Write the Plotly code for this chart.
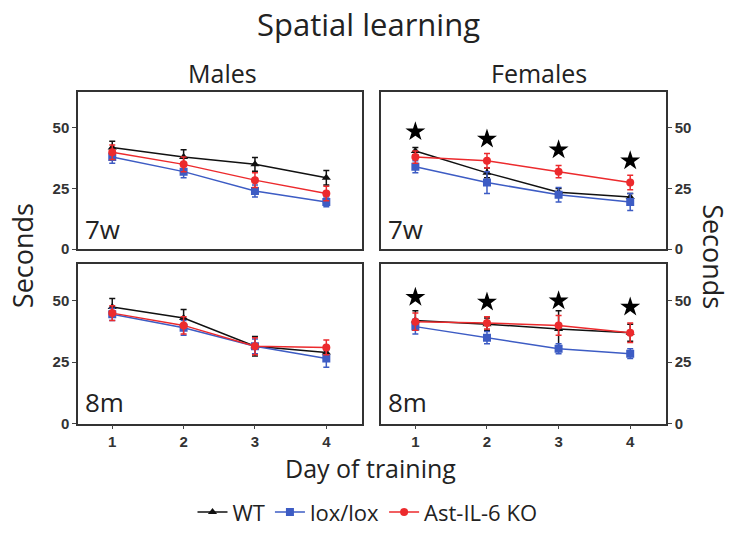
import plotly.graph_objects as go

days = [1, 2, 3, 4]

# Mean latency (s) and SEM per group, panel order: males 7w, females 7w, males 8m, females 8m
wt_mean = [[42, 38, 35, 29.5], [40.5, 31.5, 23.5, 21.5], [47.5, 43, 31.5, 29], [42, 40.5, 38.5, 37]]
wt_sem = [[2.5, 3, 2.8, 3], [1.5, 2, 1.5, 1.5], [3.5, 3.5, 4, 2.5], [4, 2.5, 7.5, 3.5]]
lox_mean = [[38, 32, 24, 19.5], [34, 27.5, 22.5, 19.5], [44.5, 39, 31.5, 26.5], [39.5, 35, 30.5, 28.5]]
lox_sem = [[2.5, 2.5, 2.5, 2], [2.5, 4.5, 3, 3.5], [2.5, 3, 3, 3.5], [3, 2.5, 2, 2]]
ko_mean = [[40, 35, 28.5, 23], [38, 36.5, 32, 27.5], [45, 40, 31.5, 31], [41.5, 41, 40, 37]]
ko_sem = [[3, 3, 3, 3], [2.5, 3, 2.5, 3], [3, 3.5, 3.5, 3], [3.5, 2.5, 4, 4]]

# Significance stars drawn over the female panels
star_7w = [48.5, 45.5, 41, 36.5]
star_8m = [51.5, 49.5, 50, 47.5]

series = [
    ("WT", wt_mean, wt_sem, "#111111", "triangle-up"),
    ("lox/lox", lox_mean, lox_sem, "#3d5cc4", "square"),
    ("Ast-IL-6 KO", ko_mean, ko_sem, "#ec2a2d", "circle"),
]

fig = go.Figure()
axis_ids = [("x", "y"), ("x2", "y2"), ("x3", "y3"), ("x4", "y4")]

for p, (xa, ya) in enumerate(axis_ids):
    for name, means, sems, color, symbol in series:
        fig.add_trace(go.Scatter(
            x=days, y=means[p], name=name, xaxis=xa, yaxis=ya,
            mode="lines+markers",
            line=dict(color=color, width=1.5),
            marker=dict(color=color, symbol=symbol, size=8),
            error_y=dict(type="data", array=sems[p], color=color, thickness=1.5, width=3),
            showlegend=(p == 0),
        ))

fig.add_trace(go.Scatter(x=days, y=star_7w, xaxis="x2", yaxis="y2", mode="markers",
                         marker=dict(symbol="star", size=15, color="black"), showlegend=False))
fig.add_trace(go.Scatter(x=days, y=star_8m, xaxis="x4", yaxis="y4", mode="markers",
                         marker=dict(symbol="star", size=15, color="black"), showlegend=False))

W, H = 735, 538
left_dom = [78 / W, 362 / W]
right_dom = [381 / W, 666 / W]
top_dom = [1 - 253 / H, 1 - 93 / H]
bot_dom = [1 - 430 / H, 1 - 268 / H]

tick_font = dict(family="Liberation Sans", size=15, color="#333333", weight="bold")

def xaxis(dom, anchor, labels):
    return dict(domain=dom, anchor=anchor, range=[0.52, 4.5], tickvals=days,
                showticklabels=labels, ticks="outside" if labels else "", ticklen=4,
                showline=True, mirror=True, linecolor="#333333", linewidth=1.5,
                showgrid=False, zeroline=False, tickfont=tick_font, fixedrange=True)

def yaxis(dom, anchor, side):
    return dict(domain=dom, anchor=anchor, range=[0, 65], tickvals=[0, 25, 50], side=side,
                ticks="outside", ticklen=4, showline=True, mirror=True,
                linecolor="#333333", linewidth=1.5, showgrid=False, zeroline=False,
                tickfont=tick_font, fixedrange=True)

fig.update_layout(
    width=W, height=H,
    margin=dict(l=0, r=0, t=0, b=0),
    paper_bgcolor="white", plot_bgcolor="white",
    font=dict(family="Open Sans", color="#222222"),
    xaxis=xaxis(left_dom, "y", False),
    yaxis=yaxis(top_dom, "x", "left"),
    xaxis2=xaxis(right_dom, "y2", False),
    yaxis2=yaxis(top_dom, "x2", "right"),
    xaxis3=xaxis(left_dom, "y3", True),
    yaxis3=yaxis(bot_dom, "x3", "left"),
    xaxis4=xaxis(right_dom, "y4", True),
    yaxis4=yaxis(bot_dom, "x4", "right"),
    legend=dict(orientation="h", x=0.5, xanchor="center", y=1 - 520 / H, yanchor="middle",
                font=dict(family="Open Sans", size=22, color="#222222"),
                itemwidth=30, tracegroupgap=0),
    showlegend=True,
)

def label(text, x, y, size, angle=0, xanchor="center", yanchor="middle"):
    fig.add_annotation(text=text, x=x / W, y=1 - y / H, xref="paper", yref="paper",
                       showarrow=False, textangle=angle, xanchor=xanchor, yanchor=yanchor,
                       borderpad=0,
                       font=dict(family="Open Sans", size=size, color="#222222"))

label("Spatial learning", 368, 24, 31)
label("Males", 222, 74, 25)
label("Females", 539, 74, 25)
label("Seconds", 22, 260, 27, angle=-90)
label("Seconds", 714, 260, 27, angle=90)
label("Day of training", 370, 457, 25, yanchor="top")
label("7w", 84, 232, 26, xanchor="left")
label("7w", 387, 232, 26, xanchor="left")
label("8m", 84, 408, 26, xanchor="left")
label("8m", 387, 408, 26, xanchor="left")

fig.write_html("out.html")
